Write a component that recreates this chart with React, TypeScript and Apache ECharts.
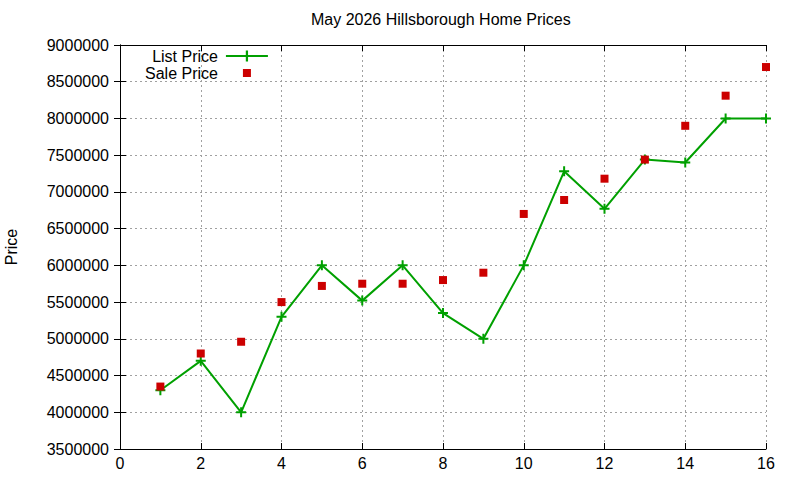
import { useRef, useEffect } from 'react'
import * as echarts from 'echarts'

// ── data ────────────────────────────────────────
const DAYS = [1, 2, 3, 4, 5, 6, 7, 8, 9, 10, 11, 12, 13, 14, 15, 16]
const LIST_PRICE = [
  4300000, 4700000, 4000000, 5300000, 6000000, 5520000, 6000000, 5350000,
  5000000, 6000000, 7280000, 6770000, 7440000, 7400000, 8000000, 8000000,
]
const SALE_PRICE = [
  4350000, 4800000, 4960000, 5500000, 5720000, 5750000, 5750000, 5800000,
  5900000, 6700000, 6890000, 7180000, 7440000, 7900000, 8310000, 8700000,
]

const FONT = 'Liberation Sans, Arial, sans-serif'
const GREEN = '#00a000'
const RED = '#cc0000'
const GRID_LINE = { color: '#a0a0a0', width: 1, type: [2, 3] as number[] }
const PLUS = 'path://M4,0H6V4H10V6H6V10H4V6H0V4H4Z'
// tiny corner dots pad the box so the legend square stays small
const SMALL_SQUARE = 'path://M0,0h0.01v0.01h-0.01z M3,3h8v8h-8z M13.99,13.99h0.01v0.01h-0.01z'

function axisBase() {
  return {
    axisLine: { show: true, lineStyle: { color: '#000', width: 1 } },
    axisTick: { show: true, inside: true, length: 6, lineStyle: { color: '#000', width: 1 } },
  }
}

function buildOption() {
  return {
    animation: false,
    backgroundColor: '#fff',
    title: {
      text: 'May 2026 Hillsborough Home Prices',
      left: 311,
      top: 11,
      padding: 0,
      textStyle: { fontFamily: FONT, fontSize: 16, fontWeight: 'normal', color: '#000' },
    },
    legend: {
      orient: 'vertical',
      align: 'right',
      left: 145,
      top: 48,
      padding: 0,
      itemWidth: 42,
      itemHeight: 14,
      itemGap: 1,
      textStyle: { fontFamily: FONT, fontSize: 16, color: '#000', padding: [0, 3, 0, 0] },
      data: [
        { name: 'List Price' },
        { name: 'Sale Price', icon: SMALL_SQUARE },
      ],
    },
    grid: { left: 120, right: 34, top: 45, bottom: 31, containLabel: false, outerBoundsMode: 'none' },
    xAxis: [
      {
        type: 'value', min: 0, max: 16, interval: 2, position: 'bottom',
        ...axisBase(),
        axisLabel: { fontFamily: FONT, fontSize: 16, color: '#000', margin: 6 },
        splitLine: { show: true, lineStyle: GRID_LINE },
      },
      {
        type: 'value', min: 0, max: 16, interval: 2, position: 'top',
        ...axisBase(),
        axisLabel: { show: false },
        splitLine: { show: false },
      },
    ],
    yAxis: [
      {
        type: 'value', min: 3500000, max: 9000000, interval: 500000, position: 'left',
        name: 'Price', nameLocation: 'middle', nameGap: 101, nameRotate: 90,
        nameTextStyle: { fontFamily: FONT, fontSize: 16, color: '#000' },
        ...axisBase(),
        axisLabel: {
          fontFamily: FONT, fontSize: 16, color: '#000', margin: 11,
          formatter: (v: number) => String(v),
        },
        splitLine: { show: true, lineStyle: GRID_LINE },
      },
      {
        type: 'value', min: 3500000, max: 9000000, interval: 500000, position: 'right',
        ...axisBase(),
        axisLabel: { show: false },
        splitLine: { show: false },
      },
    ],
    series: [
      {
        name: 'List Price',
        type: 'line',
        xAxisIndex: 0,
        yAxisIndex: 0,
        data: DAYS.map((d, i) => [d, LIST_PRICE[i]]),
        symbol: PLUS,
        symbolSize: 10,
        showAllSymbol: true,
        lineStyle: { color: GREEN, width: 2 },
        itemStyle: { color: GREEN },
        z: 3,
      },
      {
        name: 'Sale Price',
        type: 'scatter',
        xAxisIndex: 0,
        yAxisIndex: 0,
        data: DAYS.map((d, i) => [d, SALE_PRICE[i]]),
        symbol: 'rect',
        symbolSize: 8,
        itemStyle: { color: RED, opacity: 1 },
        z: 4,
      },
    ],
  }
}

export default function App() {
  const ref = useRef<HTMLDivElement>(null)

  useEffect(() => {
    if (!ref.current) return
    const chart = echarts.init(ref.current, null, { renderer: 'svg' })
    chart.setOption(buildOption())
    return () => chart.dispose()
  }, [])

  return (
    <div
      ref={ref}
      style={{ position: 'absolute', left: 0, top: 0, width: '800px', height: '480px', background: '#fff' }}
    />
  )
}
